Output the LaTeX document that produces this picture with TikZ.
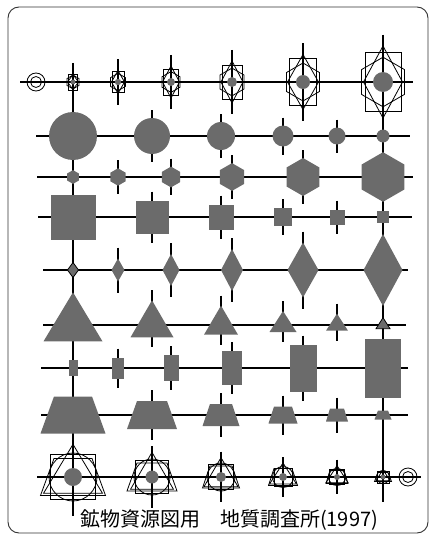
\documentclass[tikz,border=0pt]{standalone}
\usepackage{fontspec}
\newfontfamily\jpfont{Noto Sans CJK JP}
\usetikzlibrary{calc}
\definecolor{SymGray}{HTML}{6B6B6B}

\begin{document}
\begin{tikzpicture}[
    x=1pt, y=-1pt,
    chartline/.style={
      line width=1.2pt,
      black
    },
    tickline/.style={
      line width=1.1pt,
      black
    },
    solidsym/.style={
      fill=SymGray,
      draw=none
    },
    hollowsym/.style={
      draw=black,
      line width=0.8pt
    },
    framebox/.style={
      draw=black!80,
      line width=0.9pt,
      rounded corners=11pt
    }
  ]

  \useasboundingbox (0,0) rectangle (430,535);
  \draw[framebox] (8,7) rectangle (428,533);

  % horizontal lines of the nine rows
  \foreach \r/\y/\xa/\xb in {1/82/20/413, 2/136/36/410, 3/177/37/413,
      4/217/38/412, 5/270/43/408, 6/325/43/406, 7/368/41/408,
      8/415/41/408, 9/477/37/421}{
    \coordinate (row\r-w) at (\xa,\y);
    \coordinate (row\r-e) at (\xb,\y);
    \draw[chartline] (row\r-w) -- (row\r-e);
  }

  % the two through-going columns
  \coordinate (left-top) at (73,63);
  \coordinate (left-bot) at (73,508);
  \coordinate (right-top) at (383,35);
  \coordinate (right-bot) at (383,502);
  \draw[chartline] (left-top) -- (left-bot);
  \draw[chartline] (right-top) -- (right-bot);

  % start and end marks
  \coordinate (start) at (36,82);
  \coordinate (finish) at (408,477);
  \foreach \c in {start,finish}{
    \draw[hollowsym] (\c) circle[radius=9];
    \draw[hollowsym] (\c) circle[radius=5.5];
    \fill (\c) circle[radius=1];
  }

  % row 1: rectangle + hexagon + diamond + dot
  \foreach \i/\x/\rw/\rh/\hr/\dw/\dh/\dr in {1/73/9/16/6.9/11/15/2.5,
      2/118/12/21/8.7/13/23/3.2, 3/171/15/26/10.4/17/32/4,
      4/232/20/34/13.9/22/42/5, 5/303/27/47/19/31/55/7,
      6/383/36/59/24.8/39/72/10}{
    \coordinate (top\i) at (\x,82);
    \pgfmathsetmacro\tk{\dh/2+11}
    \pgfmathsetmacro\hx{0.866*\hr}
    \pgfmathsetmacro\hy{0.5*\hr}
    \draw[tickline] ($(top\i)+(0,-\tk)$) -- ($(top\i)+(0,\tk)$);
    \draw[hollowsym] (top\i) ++(-\rw/2,-\rh/2) rectangle ++(\rw,\rh);
    \draw[hollowsym] (top\i) ++(0,-\hr) -- ++(\hx,\hy) -- ++(0,\hr)
      -- ++(-\hx,\hy) -- ++(-\hx,-\hy) -- ++(0,-\hr) -- cycle;
    \draw[hollowsym] (top\i) ++(-\dw/2,0) -- ++(\dw/2,-\dh/2)
      -- ++(\dw/2,\dh/2) -- ++(-\dw/2,\dh/2) -- cycle;
    \fill[solidsym] (top\i) circle[radius=\dr];
  }

  % row 2: circles
  \foreach \i/\x/\rr in {1/73/24, 2/152/18, 3/221/14, 4/283/10.5,
      5/337/8.5, 6/383/6.5}{
    \coordinate (cir\i) at (\x,136);
    \pgfmathsetmacro\tk{\rr+8}
    \draw[tickline] ($(cir\i)+(0,-\tk)$) -- ($(cir\i)+(0,\tk)$);
    \fill[solidsym] (cir\i) circle[radius=\rr];
  }

  % row 3: hexagons
  \foreach \i/\x/\hr in {1/73/6.9, 2/118/8.7, 3/171/10.4, 4/232/13.9,
      5/303/19, 6/383/24.8}{
    \coordinate (hex\i) at (\x,177);
    \pgfmathsetmacro\tk{\hr+8}
    \pgfmathsetmacro\hx{0.866*\hr}
    \pgfmathsetmacro\hy{0.5*\hr}
    \draw[tickline] ($(hex\i)+(0,-\tk)$) -- ($(hex\i)+(0,\tk)$);
    \fill[solidsym] (hex\i) ++(0,-\hr) -- ++(\hx,\hy) -- ++(0,\hr)
      -- ++(-\hx,\hy) -- ++(-\hx,-\hy) -- ++(0,-\hr) -- cycle;
  }

  % row 4: squares
  \foreach \i/\x/\sq in {1/73/45, 2/152/33, 3/221/25, 4/283/18,
      5/337/15, 6/383/12}{
    \coordinate (sqr\i) at (\x,217);
    \pgfmathsetmacro\tk{\sq/2+9}
    \draw[tickline] ($(sqr\i)+(0,-\tk)$) -- ($(sqr\i)+(0,\tk)$);
    \fill[solidsym] (sqr\i) ++(-\sq/2,-\sq/2) rectangle ++(\sq,\sq);
  }

  % row 5: diamonds
  \foreach \i/\x/\dw/\dh in {1/73/11/15, 2/118/13/23, 3/171/17/32,
      4/232/22/42, 5/303/31/55, 6/383/39/72}{
    \coordinate (dia\i) at (\x,270);
    \pgfmathsetmacro\tk{\dh/2+11}
    \draw[tickline] ($(dia\i)+(0,-\tk)$) -- ($(dia\i)+(0,\tk)$);
    \fill[solidsym] (dia\i) ++(-\dw/2,0) -- ++(\dw/2,-\dh/2)
      -- ++(\dw/2,\dh/2) -- ++(-\dw/2,\dh/2) -- cycle;
  }
  \draw[hollowsym] (dia1) ++(-5.5,0) -- ++(5.5,-7.5) -- ++(5.5,7.5)
    -- ++(-5.5,7.5) -- cycle;

  % row 6: triangles
  \foreach \i/\x/\tw/\th in {1/73/59/49, 2/152/43/37, 3/221/34/29,
      4/283/27/21, 5/337/22/17, 6/383/14/11}{
    \coordinate (tri\i) at (\x,325);
    \pgfmathsetmacro\tu{2*\th/3+10}
    \pgfmathsetmacro\td{\th/3+10}
    \draw[tickline] ($(tri\i)+(0,-\tu)$) -- ($(tri\i)+(0,\td)$);
    \fill[solidsym] (tri\i) ++(0,-2*\th/3) -- ++(\tw/2,\th)
      -- ++(-\tw,0) -- cycle;
  }
  \draw[hollowsym] (tri6) ++(0,-7.3) -- ++(7,11) -- ++(-14,0) -- cycle;

  % row 7: rectangles
  \foreach \i/\x/\rw/\rh in {1/73/9/16, 2/118/12/21, 3/171/15/26,
      4/232/20/34, 5/303/27/47, 6/383/36/59}{
    \coordinate (rct\i) at (\x,368);
    \pgfmathsetmacro\tk{\rh/2+9}
    \draw[tickline] ($(rct\i)+(0,-\tk)$) -- ($(rct\i)+(0,\tk)$);
    \fill[solidsym] (rct\i) ++(-\rw/2,-\rh/2) rectangle ++(\rw,\rh);
  }

  % row 8: trapezoids
  \foreach \i/\x/\tt/\tb/\th in {1/73/38/65/37, 2/152/30/50/28,
      3/221/22/37/22, 4/283/18/29/17, 5/337/14/22/13, 6/383/10/17/9}{
    \coordinate (trp\i) at (\x,415);
    \pgfmathsetmacro\tk{\th/2+11}
    \pgfmathsetmacro\sl{(\tb-\tt)/2}
    \draw[tickline] ($(trp\i)+(0,-\tk)$) -- ($(trp\i)+(0,\tk)$);
    \fill[solidsym] (trp\i) ++(-\tt/2,-\th/2) -- ++(\tt,0) -- ++(\sl,\th)
      -- ++(-\tb,0) -- cycle;
  }

  % row 9: square + triangle + trapezoid + circle + dot
  \foreach \i/\x/\sq/\tw/\th/\tt/\tb/\zh/\rr/\dr in
      {1/73/45/59/49/38/65/37/24/9, 2/152/33/43/37/30/50/28/18/6.5,
       3/221/25/34/29/22/37/22/14/5, 4/283/18/27/21/18/29/17/10.5/4,
       5/337/15/22/17/14/22/13/8.5/3, 6/383/12/14/11/10/17/9/6.5/2.5}{
    \coordinate (bot\i) at (\x,477);
    \pgfmathsetmacro\tk{2*\th/3+6}
    \pgfmathsetmacro\sl{(\tb-\tt)/2}
    \draw[tickline] ($(bot\i)+(0,-\tk)$) -- ($(bot\i)+(0,\tk)$);
    \draw[hollowsym] (bot\i) ++(-\sq/2,-\sq/2) rectangle ++(\sq,\sq);
    \draw[hollowsym] (bot\i) ++(0,-2*\th/3) -- ++(\tw/2,\th)
      -- ++(-\tw,0) -- cycle;
    \draw[hollowsym] (bot\i) ++(-\tt/2,-\zh/2) -- ++(\tt,0) -- ++(\sl,\zh)
      -- ++(-\tb,0) -- cycle;
    \draw[hollowsym] (bot\i) circle[radius=\rr];
    \fill[solidsym] (bot\i) circle[radius=\dr];
  }

  \node[font=\jpfont\fontsize{20}{20}\selectfont] (credit) at (229,520)
    {鉱物資源図用　地質調査所(1997)};

\end{tikzpicture}
\end{document}
